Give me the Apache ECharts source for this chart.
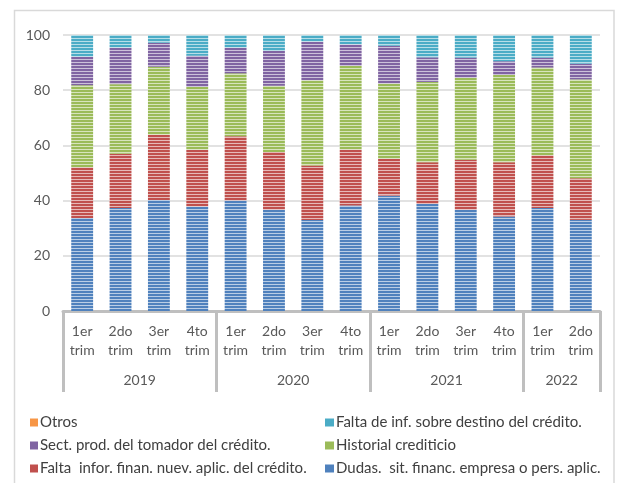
<!DOCTYPE html>
<html>
<head>
<meta charset="utf-8">
<script src="https://cdn.jsdelivr.net/npm/echarts@6/dist/echarts.min.js"></script>
<style>
  html, body { margin: 0; padding: 0; background: #fff; }
  #chart { width: 617px; height: 483px; }
</style>
</head>
<body>
<div id="chart"></div>
<script>
// trimestres y años
const quarters = ['1er\ntrim', '2do\ntrim', '3er\ntrim', '4to\ntrim',
  '1er\ntrim', '2do\ntrim', '3er\ntrim', '4to\ntrim',
  '1er\ntrim', '2do\ntrim', '3er\ntrim', '4to\ntrim',
  '1er\ntrim', '2do\ntrim']
const years = ['2019', '2020', '2021', '2022']
const yearSizes = [4, 4, 4, 2]

// porcentajes (de abajo hacia arriba)
const dudas = [33.7, 37.3, 40.2, 37.9, 40.0, 36.7, 33.0, 38.2, 41.8, 38.8, 36.7, 34.2, 37.3, 33.0]
const faltaInfor = [18.4, 19.7, 23.7, 20.5, 23.3, 20.9, 19.7, 20.3, 13.4, 15.1, 18.1, 19.7, 19.1, 15.1]
const historial = [29.7, 25.2, 24.6, 22.8, 22.8, 24.0, 30.9, 30.3, 27.2, 29.1, 29.7, 31.6, 31.8, 35.8]
const sectProd = [10.3, 13.2, 8.7, 11.3, 9.3, 12.6, 14.0, 7.8, 13.7, 8.9, 7.3, 5.0, 3.6, 5.7]
const faltaDestino = [7.9, 4.6, 2.8, 7.5, 4.6, 5.8, 2.4, 3.4, 3.9, 8.1, 8.2, 9.5, 8.2, 10.4]
const otros = [0, 0, 0, 0, 0, 0, 0, 0, 0, 0, 0, 0, 0, 0]

const yTicks = [0, 20, 40, 60, 80, 100]

const names = {
  dudas: 'Dudas.  sit. financ. empresa o pers. aplic.',
  faltaInfor: 'Falta  infor. finan. nuev. aplic. del crédito.',
  historial: 'Historial crediticio',
  sectProd: 'Sect. prod. del tomador del crédito.',
  faltaDestino: 'Falta de inf. sobre destino del crédito.',
  otros: 'Otros'
}

// orden de la leyenda: [columna izquierda, columna derecha] por fila
const legendRows = [
  ['otros', 'faltaDestino'],
  ['sectProd', 'historial'],
  ['faltaInfor', 'dudas']
]

const FONT = 'Lato, "Open Sans", sans-serif'

// relleno rayado horizontal
function stripes(base, light) {
  const c = document.createElement('canvas')
  c.width = 4
  c.height = 3
  const ctx = c.getContext('2d')
  ctx.fillStyle = base
  ctx.fillRect(0, 0, 4, 3)
  ctx.fillStyle = light
  ctx.fillRect(0, 2, 4, 1)
  return { image: c, repeat: 'repeat' }
}

const colors = {
  dudas: ['#4f81bd', '#b9cde5'],
  faltaInfor: ['#c0504d', '#e6b9b8'],
  historial: ['#9bbb59', '#d7e4bd'],
  sectProd: ['#8064a2', '#ccc1da'],
  faltaDestino: ['#4bacc6', '#b7dee8'],
  otros: ['#f79646', '#fcd5b5']
}

function bar(key, data) {
  return {
    name: names[key],
    type: 'bar',
    stack: 'total',
    barWidth: '57%',
    data: data,
    itemStyle: { color: stripes(colors[key][0], colors[key][1]) },
    emphasis: { disabled: true }
  }
}

// una leyenda por elemento para fijar las dos columnas
const legends = []
legendRows.forEach((row, r) => {
  row.forEach((key, c) => {
    legends.push({
      left: c === 0 ? 30 : 325,
      top: 415 + r * 23,
      padding: 0,
      icon: 'rect',
      itemWidth: c === 0 ? 8 : 9,
      itemHeight: 8,
      selectedMode: false,
      textStyle: { fontFamily: FONT, fontSize: 15, color: '#404040', padding: [0, 0, 0, -3] },
      data: [{ name: names[key], itemStyle: { color: colors[key][0] } }]
    })
  })
})

// posiciones de los separadores y de las etiquetas de año
const sepValues = [0]
const yearCenters = []
let acc = 0
yearSizes.forEach(n => {
  yearCenters.push(acc + n / 2)
  acc += n
  sepValues.push(acc)
})

const chart = echarts.init(document.getElementById('chart'))

const option = {
  animation: false,
  textStyle: { fontFamily: FONT },
  grid: { left: 63, right: 17, top: 35, bottom: 172 },
  graphic: [{
    type: 'rect',
    shape: { x: 14.5, y: 10.5, width: 599.5, height: 490 },
    style: { fill: 'none', stroke: '#d9d9d9', lineWidth: 1.5 },
    silent: true
  }],
  legend: legends,
  xAxis: [
    {
      type: 'category',
      data: quarters,
      axisLine: { lineStyle: { color: '#bfbfbf', width: 3 } },
      axisTick: { show: false },
      axisLabel: {
        interval: 0,
        margin: 11,
        fontFamily: FONT,
        fontSize: 14,
        lineHeight: 19,
        color: '#595959'
      }
    },
    {
      type: 'value',
      min: 0,
      max: quarters.length,
      position: 'bottom',
      axisLine: { show: false },
      splitLine: { show: false },
      axisTick: {
        show: true,
        customValues: sepValues,
        length: 81,
        lineStyle: { color: '#bfbfbf', width: 3 }
      },
      axisLabel: {
        customValues: yearCenters,
        formatter: v => years[yearCenters.indexOf(v)],
        margin: 62,
        fontFamily: FONT,
        fontSize: 14,
        color: '#595959'
      }
    }
  ],
  yAxis: {
    type: 'value',
    min: yTicks[0],
    max: yTicks[yTicks.length - 1],
    interval: 20,
    axisLine: { show: false },
    axisTick: { show: false },
    axisLabel: { margin: 13, fontFamily: FONT, fontSize: 14, color: '#595959' },
    splitLine: { lineStyle: { color: '#d9d9d9', width: 1.5 } }
  },
  series: [
    bar('dudas', dudas),
    bar('faltaInfor', faltaInfor),
    bar('historial', historial),
    bar('sectProd', sectProd),
    bar('faltaDestino', faltaDestino),
    bar('otros', otros)
  ]
}

chart.setOption(option)
</script>
</body>
</html>
